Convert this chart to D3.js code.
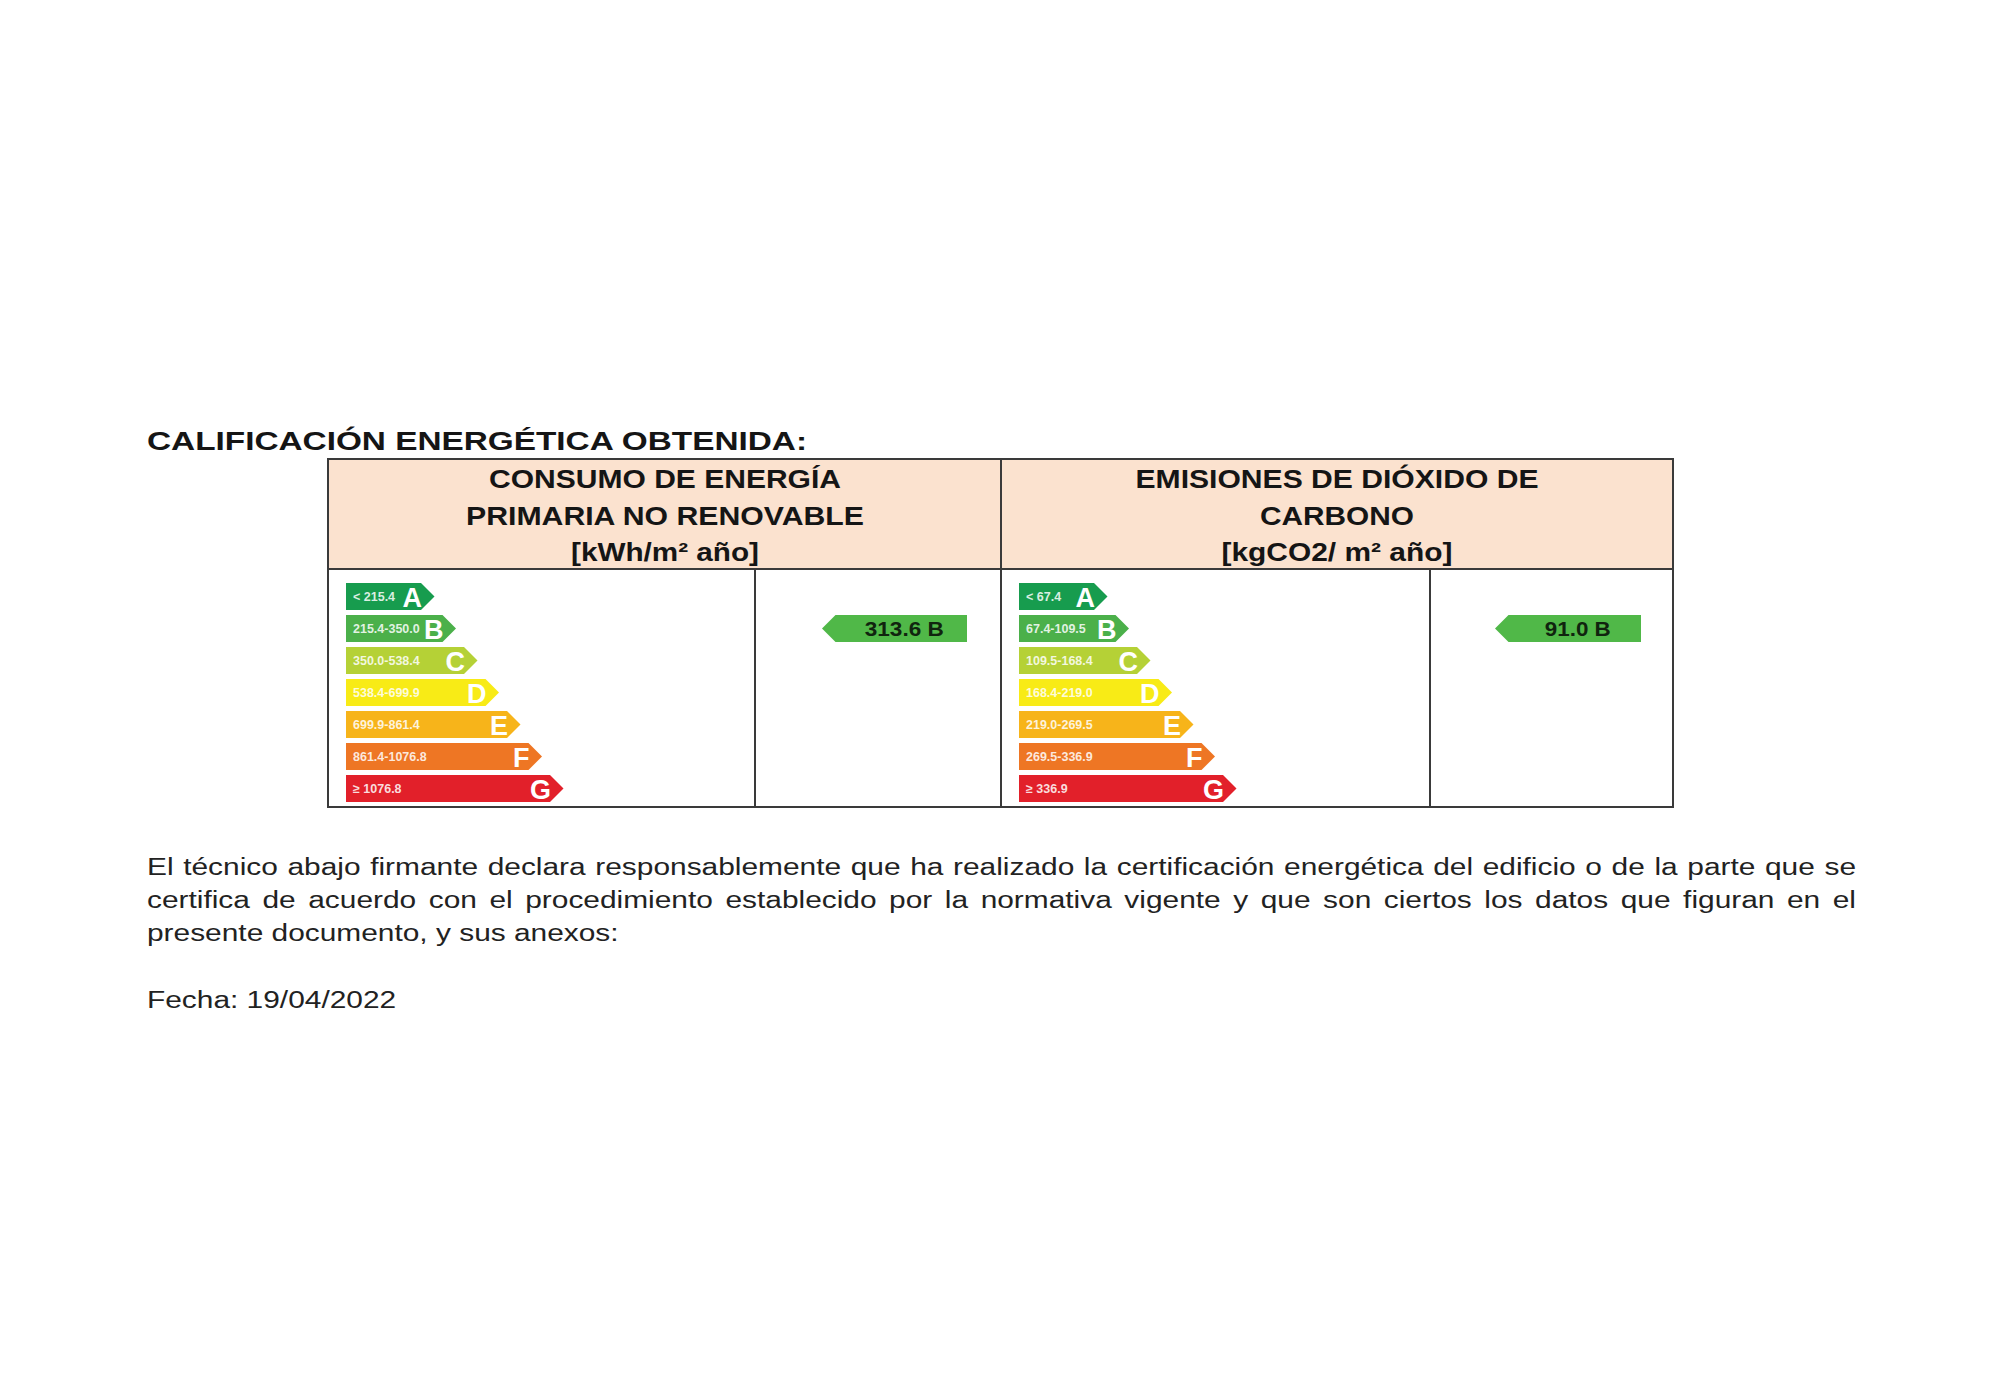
<!DOCTYPE html>
<html>
<head>
<meta charset="utf-8">
<script src="https://cdn.jsdelivr.net/npm/d3@7/dist/d3.min.js"></script>
<style>
  html, body { margin: 0; padding: 0; background: #ffffff; }
  svg { display: block; }
  text { font-family: "Liberation Sans", Arial, Helvetica, sans-serif; }
</style>
</head>
<body>
<svg id="chart" width="2000" height="1396"></svg>
<script>
// ---------- data ----------
const classes = ["A", "B", "C", "D", "E", "F", "G"];
const classColors = ["#179c4e", "#4bb04a", "#b5d136", "#f8eb16", "#f7b41a", "#ee7624", "#e2202a"];
const energyRanges = ["< 215.4", "215.4-350.0", "350.0-538.4", "538.4-699.9", "699.9-861.4", "861.4-1076.8", "≥ 1076.8"];
const co2Ranges = ["< 67.4", "67.4-109.5", "109.5-168.4", "168.4-219.0", "219.0-269.5", "269.5-336.9", "≥ 336.9"];
const energyValue = 313.6, energyClass = "B";
const co2Value = 91.0, co2Class = "B";
const headerEnergy = ["CONSUMO DE ENERGÍA", "PRIMARIA NO RENOVABLE", "[kWh/m² año]"];
const headerCo2 = ["EMISIONES DE DIÓXIDO DE", "CARBONO", "[kgCO2/ m² año]"];
const titleText = "CALIFICACIÓN ENERGÉTICA OBTENIDA:";
const bodyLines = [
  "El técnico abajo firmante declara responsablemente que ha realizado la certificación energética del edificio o de la parte que se",
  "certifica de acuerdo con el procedimiento establecido por la normativa vigente y que son ciertos los datos que figuran en el",
  "presente documento, y sus anexos:"
];
const dateText = "Fecha: 19/04/2022";

// ---------- layout ----------
const svg = d3.select("#chart");
const T = { x0: 328, x1: 1673, y0: 459, yh: 569, y1: 807, xm: 1001, xl: 755, xr: 1430 };
const fit = (sel, w) => sel.attr("textLength", w).attr("lengthAdjust", "spacingAndGlyphs");

// title
fit(svg.append("text").attr("x", 147).attr("y", 450)
  .attr("font-size", 25.5).attr("font-weight", "bold").attr("fill", "#151515")
  .text(titleText), 660);

// header background
svg.append("rect").attr("x", T.x0).attr("y", T.y0)
  .attr("width", T.x1 - T.x0).attr("height", T.yh - T.y0)
  .attr("fill", "#fbe2cf");

// header texts
function header(lines, cx, widths) {
  lines.forEach((l, i) => {
    fit(svg.append("text").attr("x", cx - widths[i] / 2).attr("y", 488 + i * 36.5)
      .attr("font-size", 25).attr("font-weight", "bold")
      .attr("fill", "#151515").text(l), widths[i]);
  });
}
header(headerEnergy, 665, [352, 398, 188]);
header(headerCo2, 1337, [403, 154, 231]);

// y scale for class rows
const y = d3.scaleBand().domain(classes).range([583, 802]).paddingInner(0.156).paddingOuter(0);
// length scale by class index
const len = d3.scaleLinear().domain([0, 6]).range([75, 204]);
const tip = y.bandwidth() / 2;

function scale(x0, ranges) {
  const g = svg.append("g");
  const rows = g.selectAll("g").data(classes).join("g")
    .attr("transform", d => `translate(${x0},${y(d)})`);
  rows.append("path")
    .attr("d", (d, i) => {
      const w = len(i), h = y.bandwidth();
      return `M0,0 H${w} L${w + tip},${h / 2} L${w},${h} H0 Z`;
    })
    .attr("fill", (d, i) => classColors[i]);
  rows.append("text")
    .attr("x", 7).attr("y", y.bandwidth() / 2 + 4.5)
    .attr("font-size", 12.5).attr("font-weight", "bold").attr("fill", "#ffffff")
    .attr("fill-opacity", 0.85)
    .text((d, i) => ranges[i]);
  rows.append("text")
    .attr("x", (d, i) => len(i) + 1).attr("y", y.bandwidth() / 2 + 10)
    .attr("text-anchor", "end")
    .attr("font-size", 27).attr("font-weight", "bold").attr("fill", "#ffffff")
    .text(d => d);
}
scale(346, energyRanges);
scale(1019, co2Ranges);

// value arrows
function valueArrow(xTip, xEnd, value, cls, tw) {
  const yy = y(cls), h = y.bandwidth();
  svg.append("path")
    .attr("d", `M${xTip},${yy + h / 2} L${xTip + tip},${yy} H${xEnd} V${yy + h} H${xTip + tip} Z`)
    .attr("fill", "#50b848");
  const cx = (xTip + tip + xEnd) / 2 + 3;
  fit(svg.append("text")
    .attr("x", cx - tw / 2).attr("y", yy + h / 2 + 7.5)
    .attr("font-size", 20).attr("font-weight", "bold")
    .attr("fill", "#10240f")
    .text(d3.format(".1f")(value) + " " + cls), tw);
}
valueArrow(822, 967, energyValue, energyClass, 79);
valueArrow(1495, 1641, co2Value, co2Class, 66);

// table lines
const lineC = "#3a3a3a";
svg.append("rect").attr("x", T.x0).attr("y", T.y0)
  .attr("width", T.x1 - T.x0).attr("height", T.y1 - T.y0)
  .attr("fill", "none").attr("stroke", lineC).attr("stroke-width", 2);
[[T.x0, T.yh, T.x1, T.yh], [T.xm, T.y0, T.xm, T.y1], [T.xl, T.yh, T.xl, T.y1], [T.xr, T.yh, T.xr, T.y1]]
  .forEach(([a, b, c, d]) => svg.append("line").attr("x1", a).attr("y1", b).attr("x2", c).attr("y2", d)
    .attr("stroke", lineC).attr("stroke-width", 2));

// body paragraph (justified lines, glyphs stretched horizontally like the scan)
const bx0 = 147, bx1 = 1856, sx = 1.22;
const body = svg.append("g").attr("transform", `translate(${bx0},0) scale(${sx},1)`);
bodyLines.forEach((l, i) => {
  const t = body.append("text").attr("x", 0).attr("y", 875 + i * 33)
    .attr("font-size", 24.5).attr("fill", "#222222").text(l);
  if (i < bodyLines.length - 1) {
    const nat = t.node().getComputedTextLength();
    const spaces = (l.match(/ /g) || []).length;
    t.attr("word-spacing", ((bx1 - bx0) / sx - nat) / spaces);
  }
});
body.append("text").attr("x", 0).attr("y", 1008)
  .attr("font-size", 24.5).attr("fill", "#222222").text(dateText);
</script>
</body>
</html>
